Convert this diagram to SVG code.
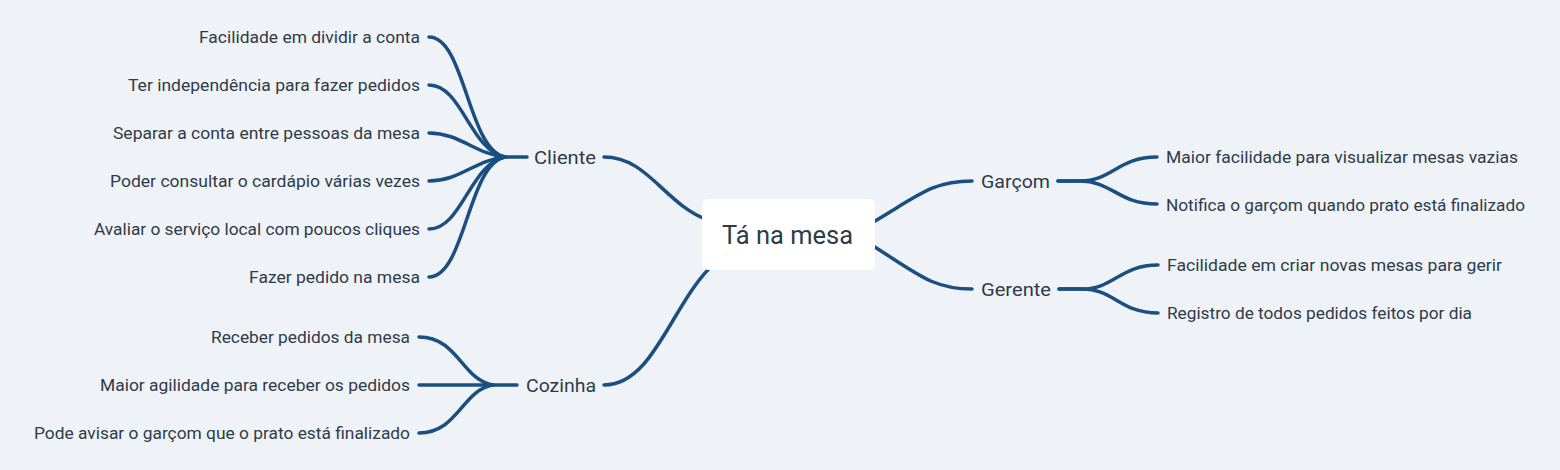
<svg xmlns="http://www.w3.org/2000/svg" width="1560" height="470" viewBox="0 0 1560 470">
<style>
.bg{fill:#eff3f7}
.c{fill:none;stroke:#1b4f80;stroke-width:3.5;stroke-linecap:round}
.t{font-family:Roboto,"Liberation Sans",sans-serif;fill:#2f3b49}
.leaf{font-size:16px}
.main{font-size:19px}
.root{font-size:25px}
.box{fill:#ffffff}
</style>
<rect class="bg" x="0" y="0" width="1560" height="470"/>
<g id="connectors">
<path class="c" d="M604,157 C648,157 664,204 708,220"/>
<path class="c" d="M604,385 C655,385 672,300 716,262"/>
<path class="c" d="M870,224 C918,196 932,181 972,181"/>
<path class="c" d="M870,244 C918,274 932,289 972,289"/>
<path class="c" d="M527,157 L505,157"/>
<path class="c" d="M429,37 C465,37 468,150 505,157"/>
<path class="c" d="M429,85 C462,85 470,150 505,157"/>
<path class="c" d="M429,133 C460,133 475,154 505,157"/>
<path class="c" d="M429,181 C460,181 475,160 505,157"/>
<path class="c" d="M429,229 C462,229 470,164 505,157"/>
<path class="c" d="M429,277 C465,277 468,164 505,157"/>
<path class="c" d="M517,385 L493,385"/>
<path class="c" d="M419,337 C458,337 462,380 493,385"/>
<path class="c" d="M419,385 L493,385"/>
<path class="c" d="M419,433 C458,433 462,390 493,385"/>
<path class="c" d="M1058,181 L1080,181 C1112,181 1118,157 1157,157"/>
<path class="c" d="M1058,181 L1080,181 C1112,181 1118,204 1157,204"/>
<path class="c" d="M1059,289 L1082,289 C1114,289 1120,265 1158,265"/>
<path class="c" d="M1059,289 L1082,289 C1114,289 1120,313 1158,313"/>
</g>
<g id="root">
<rect class="box" x="702" y="199" width="173" height="71" rx="6"/>
<text class="t root" x="722" y="244" textLength="131" lengthAdjust="spacingAndGlyphs">Tá na mesa</text>
</g>
<g id="cliente"><text class="t main" x="534" y="164" textLength="62" lengthAdjust="spacingAndGlyphs">Cliente</text></g>
<g id="cozinha"><text class="t main" x="526" y="392" textLength="70" lengthAdjust="spacingAndGlyphs">Cozinha</text></g>
<g id="garcom"><text class="t main" x="981" y="188" textLength="69" lengthAdjust="spacingAndGlyphs">Garçom</text></g>
<g id="gerente"><text class="t main" x="981" y="296" textLength="70" lengthAdjust="spacingAndGlyphs">Gerente</text></g>
<g id="c1"><text class="t leaf" x="420" y="43" text-anchor="end" textLength="221" lengthAdjust="spacingAndGlyphs">Facilidade em dividir a conta</text></g>
<g id="c2"><text class="t leaf" x="420" y="91" text-anchor="end" textLength="292" lengthAdjust="spacingAndGlyphs">Ter independência para fazer pedidos</text></g>
<g id="c3"><text class="t leaf" x="420" y="139" text-anchor="end" textLength="307" lengthAdjust="spacingAndGlyphs">Separar a conta entre pessoas da mesa</text></g>
<g id="c4"><text class="t leaf" x="420" y="187" text-anchor="end" textLength="310" lengthAdjust="spacingAndGlyphs">Poder consultar o cardápio várias vezes</text></g>
<g id="c5"><text class="t leaf" x="420" y="235" text-anchor="end" textLength="326" lengthAdjust="spacingAndGlyphs">Avaliar o serviço local com poucos cliques</text></g>
<g id="c6"><text class="t leaf" x="420" y="283" text-anchor="end" textLength="171" lengthAdjust="spacingAndGlyphs">Fazer pedido na mesa</text></g>
<g id="k1"><text class="t leaf" x="410" y="343" text-anchor="end" textLength="199" lengthAdjust="spacingAndGlyphs">Receber pedidos da mesa</text></g>
<g id="k2"><text class="t leaf" x="410" y="391" text-anchor="end" textLength="310" lengthAdjust="spacingAndGlyphs">Maior agilidade para receber os pedidos</text></g>
<g id="k3"><text class="t leaf" x="410" y="439" text-anchor="end" textLength="376" lengthAdjust="spacingAndGlyphs">Pode avisar o garçom que o prato está finalizado</text></g>
<g id="g1"><text class="t leaf" x="1166" y="163" textLength="352" lengthAdjust="spacingAndGlyphs">Maior facilidade para visualizar mesas vazias</text></g>
<g id="g2"><text class="t leaf" x="1166" y="211" textLength="359" lengthAdjust="spacingAndGlyphs">Notifica o garçom quando prato está finalizado</text></g>
<g id="e1"><text class="t leaf" x="1167" y="271" textLength="335" lengthAdjust="spacingAndGlyphs">Facilidade em criar novas mesas para gerir</text></g>
<g id="e2"><text class="t leaf" x="1167" y="319" textLength="305" lengthAdjust="spacingAndGlyphs">Registro de todos pedidos feitos por dia</text></g>
</svg>
